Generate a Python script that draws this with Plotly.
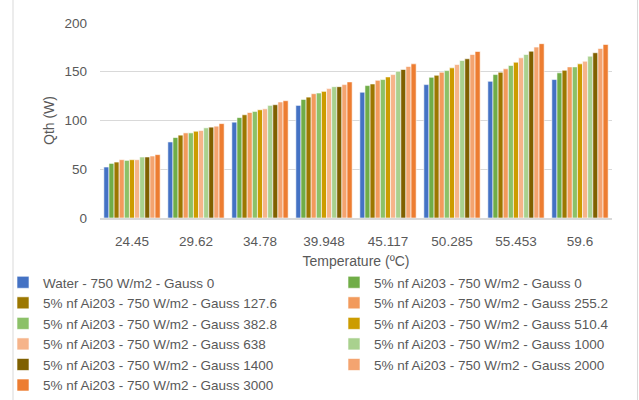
import plotly.graph_objects as go

# Temperature categories (x axis)
temperatures = ["24.45", "29.62", "34.78", "39.948", "45.117", "50.285", "55.453", "59.6"]

# Series names
series_names = [
    "Water - 750 W/m2 - Gauss 0",
    "5% nf Ai203 - 750 W/m2 - Gauss 0",
    "5% nf Ai203 - 750 W/m2 - Gauss 127.6",
    "5% nf Ai203 - 750 W/m2 - Gauss 255.2",
    "5% nf Ai203 - 750 W/m2 - Gauss 382.8",
    "5% nf Ai203 - 750 W/m2 - Gauss 510.4",
    "5% nf Ai203 - 750 W/m2 - Gauss 638",
    "5% nf Ai203 - 750 W/m2 - Gauss 1000",
    "5% nf Ai203 - 750 W/m2 - Gauss 1400",
    "5% nf Ai203 - 750 W/m2 - Gauss 2000",
    "5% nf Ai203 - 750 W/m2 - Gauss 3000",
]

# Qth (W) per series, one value per temperature
water_g0 = [52.3, 78.0, 98.3, 115.5, 129.0, 136.8, 140.2, 142.0]
nf_g0 = [56.0, 82.5, 103.0, 121.6, 135.8, 144.3, 147.1, 148.9]
nf_g127_6 = [57.4, 85.0, 105.9, 124.0, 137.5, 146.4, 149.5, 151.5]
nf_g255_2 = [59.8, 87.3, 108.2, 127.5, 141.2, 149.5, 153.0, 155.0]
nf_g382_8 = [59.1, 87.3, 109.3, 128.2, 142.0, 151.2, 156.4, 155.0]
nf_g510_4 = [59.8, 89.0, 111.0, 129.9, 144.7, 154.0, 159.8, 158.1]
nf_g638 = [59.8, 89.7, 112.0, 132.7, 147.1, 157.4, 164.3, 160.8]
nf_g1000 = [62.6, 92.5, 115.5, 134.7, 150.5, 161.5, 167.7, 166.0]
nf_g1400 = [62.6, 93.2, 116.2, 134.7, 152.3, 163.3, 171.1, 169.5]
nf_g2000 = [63.6, 94.2, 119.0, 136.8, 155.4, 167.7, 175.3, 173.9]
nf_g3000 = [65.0, 96.8, 120.3, 139.6, 158.1, 170.8, 178.8, 178.0]

series_values = [
    water_g0, nf_g0, nf_g127_6, nf_g255_2, nf_g382_8, nf_g510_4,
    nf_g638, nf_g1000, nf_g1400, nf_g2000, nf_g3000,
]

colors = [
    "#4472C4", "#70AD47", "#9C7700", "#F29A5C", "#8CC168", "#CC9C00",
    "#F6B48A", "#A9D18E", "#7F6000", "#F4A470", "#ED7D31",
]

W, H = 639, 400
L, R, T, B = 100, 27, 23, 182
plot_w = W - L - R
plot_h = H - T - B
text_color = "#595959"
font_family = "Liberation Sans, Arial, sans-serif"

fig = go.Figure()
for i, (name, vals, col) in enumerate(zip(series_names, series_values, colors)):
    # legend entries laid out in two columns, filled row by row
    fig.add_trace(go.Bar(
        x=temperatures, y=vals, name=name,
        marker=dict(color=col, line=dict(color="white", width=0.6)),
        legend="legend" if i % 2 == 0 else "legend2",
    ))

legend_style = dict(
    orientation="v", yanchor="top", xanchor="left",
    font=dict(size=13.5, color=text_color), itemwidth=30,
    traceorder="normal", bgcolor="rgba(0,0,0,0)", maxheight=1,
)
legend_top = -(267 - (H - B)) / plot_h

fig.update_layout(
    width=W, height=H,
    margin=dict(l=L, r=R, t=T, b=B, autoexpand=False),
    paper_bgcolor="white", plot_bgcolor="white",
    barmode="group", bargap=0.12, bargroupgap=0.0,
    font=dict(family=font_family, size=14, color=text_color),
    xaxis=dict(
        type="category", showgrid=False, ticks="",
        showline=True, linecolor="#D9D9D9", linewidth=1.5,
        tickfont=dict(size=13.5, color=text_color), ticklabelstandoff=10,
        title=dict(text="Temperature (ºC)", font=dict(size=14, color=text_color), standoff=8),
    ),
    yaxis=dict(
        range=[0, 200], dtick=50, showgrid=True, gridcolor="#D9D9D9", gridwidth=1,
        zeroline=False, ticks="", ticklabelstandoff=12,
        tickfont=dict(size=13.5, color=text_color),
        title=dict(text="Qth (W)", font=dict(size=14, color=text_color), standoff=6),
    ),
    legend=dict(x=(3 - L) / plot_w, y=legend_top, **legend_style),
    legend2=dict(x=(334 - L) / plot_w, y=legend_top, **legend_style),
    showlegend=True,
)

# Light chart-area frame lines
for px in (13, 637.5):
    xp = (px - L) / plot_w
    fig.add_shape(type="line", xref="paper", yref="paper",
                  x0=xp, x1=xp, y0=(H - B - 400) / plot_h, y1=(H - B + 5) / plot_h,
                  line=dict(color="#D9D9D9", width=1))

fig.write_html("out.html")
